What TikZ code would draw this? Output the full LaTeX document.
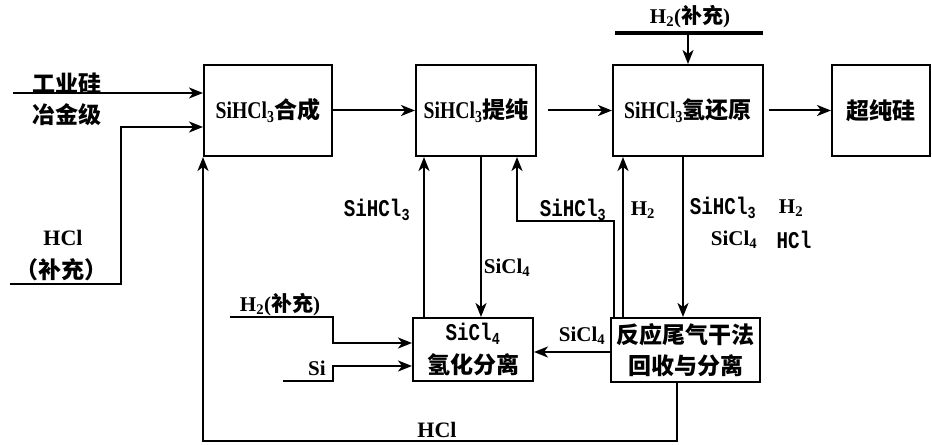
\documentclass[tikz,border=0pt]{standalone}
\usepackage{fontspec}
\setmainfont{Liberation Serif}
\newfontfamily\cjk{Noto Sans CJK SC}
\newfontfamily\monof[FakeStretch=0.8]{Liberation Mono}
\newfontfamily\latn[FakeStretch=0.82,UprightFont={* Bold}]{Liberation Serif}
\usetikzlibrary{arrows.meta}
\newcommand{\cjs}{\fontsize{23bp}{33bp}\selectfont\bfseries}
\newcommand{\bls}{\fontsize{21bp}{24bp}\selectfont\bfseries}
\newcommand{\mls}{\fontsize{24bp}{26bp}\selectfont\monof\bfseries}
\newcommand{\boxlat}[1]{{\fontsize{24bp}{26bp}\selectfont\latn #1}}
\begin{document}
\begin{tikzpicture}[x=1bp,y=-1bp,line width=2bp,
  box/.style={draw,line width=2bp,inner sep=0pt,align=center,font=\cjs},
  arr/.style={-{Stealth[length=14bp,width=11bp,inset=4bp]}},
  lab/.style={inner sep=0pt,font=\cjs}]
\useasboundingbox (0,0) rectangle (932,445);
% boxes
\node[box,minimum width=128bp,minimum height=91bp] (b1) at (268,110.5) {\boxlat{SiHCl\textsubscript{3}}{\cjk 合成}};
\node[box,minimum width=120bp,minimum height=91bp] (b2) at (476,110.5) {\boxlat{SiHCl\textsubscript{3}}{\cjk 提纯}};
\node[box,minimum width=150bp,minimum height=91bp] (b3) at (688,110.5) {\boxlat{SiHCl\textsubscript{3}}{\cjk 氢还原}};
\node[box,minimum width=98bp,minimum height=91bp] (b4) at (881,110.5) {\cjk 超纯硅};
\node[box,minimum width=120bp,minimum height=63bp] (b5) at (473,349.5) {{\mls SiCl\textsubscript{4}}\\[0bp]{\cjk 氢化分离}};
\node[box,minimum width=149bp,minimum height=64bp] (b6) at (685.5,350) {{\cjk 反应尾气干法}\\[-2bp]{\cjk 回收与分离}};
% helper coordinates
\coordinate (in1) at (13,93);
\coordinate (in2) at (10,284);
\coordinate (hc) at (121,127);
\coordinate (barL) at (615,33);
\coordinate (barR) at (763,33);
\coordinate (barM) at (688,33);
\coordinate (xa) at (424,0);
\coordinate (xb) at (481,0);
\coordinate (xc) at (517,0);
\coordinate (xd) at (614,0);
\coordinate (xe) at (623,0);
\coordinate (xf) at (683,0);
\coordinate (xg) at (677,0);
\coordinate (bend) at (614,221);
\coordinate (ys) at (0,352);
\coordinate (h2s) at (230,317);
\coordinate (h2c) at (333,343);
\coordinate (sis) at (283,381);
\coordinate (sic) at (333,366);
\coordinate (hby) at (0,441);
% connectors
\draw[arr] (in1) -- (in1 -| b1.west);
\draw[arr] (in2) -| (hc) -- (hc -| b1.west);
\draw[arr] (b1.east) -- (b2.west);
\draw[arr,shorten <=11bp] (b2.east) -- (b3.west);
\draw[arr,shorten <=5bp] (b3.east) -- (b4.west);
\draw[line width=4.5bp] (barL) -- (barR);
\draw[arr] (barM) -- (barM |- b3.north);
\draw[arr] (xa |- b5.north) -- (xa |- b2.south);
\draw[arr] (xb |- b2.south) -- (xb |- b5.north);
\draw[arr] (xd |- b6.north) -- (bend) -| (xc |- b2.south);
\draw[arr] (xe |- b6.north) -- (xe |- b3.south);
\draw[arr] (xf |- b3.south) -- (xf |- b6.north);
\draw[arr] (b6.west |- ys) -- (b5.east |- ys);
\draw[arr] (h2s) -| (h2c) -- (h2c -| b5.west);
\draw[arr] (sis) -| (sic) -- (sic -| b5.west);
\draw[arr] (xg |- b6.south) |- (b1.south west |- hby) -- (b1.south west);
% labels
\node[lab] (t1) at (67,83) {\cjk 工业硅};
\node[lab] (t2) at (67,115) {\cjk 冶金级};
\node[lab,font=\fontsize{22bp}{24bp}\selectfont\bfseries] (t3) at (63,238) {HCl};
\node[lab] (t4) at (62,270) {\cjk （补充）};
\node[lab,font=\mls] (t5) at (377,210) {SiHCl\textsubscript{3}};
\node[lab,font=\bls] (t6) at (507,268) {SiCl\textsubscript{4}};
\node[lab,font=\mls] (t7) at (573,210) {SiHCl\textsubscript{3}};
\node[lab,font=\bls] (t8) at (643,210) {H\textsubscript{2}};
\node[lab,font=\mls] (t9) at (723,208) {SiHCl\textsubscript{3}};
\node[lab,font=\bls] (t10) at (791,208) {H\textsubscript{2}};
\node[lab,font=\bls] (t11) at (734,240) {SiCl\textsubscript{4}};
\node[lab,font=\mls] (t12) at (794,240) {HCl};
\node[lab,font=\bls] (t13) at (582,336) {SiCl\textsubscript{4}};
\node[lab,font=\bls] (t14) at (280,305) {H\textsubscript{2}({\fontsize{21bp}{24bp}\selectfont\cjk 补充})};
\node[lab,font=\bls] (t15) at (317,368) {Si};
\node[lab,font=\fontsize{22bp}{24bp}\selectfont\bfseries] (t16) at (437,430) {HCl};
\node[lab,font=\bls] (t17) at (690,17) {H\textsubscript{2}({\fontsize{21bp}{24bp}\selectfont\cjk 补充})};
\end{tikzpicture}
\end{document}
